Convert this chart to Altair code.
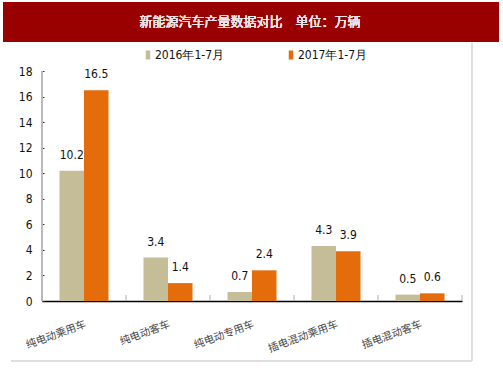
import altair as alt
import pandas as pd

categories = ["纯电动乘用车", "纯电动客车", "纯电动专用车", "插电混动乘用车", "插电混动客车"]
series = ["2016年1-7月", "2017年1-7月"]
v2016 = [10.2, 3.4, 0.7, 4.3, 0.5]
v2017 = [16.5, 1.4, 2.4, 3.9, 0.6]
colors = ["#C4BD97", "#E46C0A"]
y_ticks = [0, 2, 4, 6, 8, 10, 12, 14, 16, 18]
title_text = "新能源汽车产量数据对比　单位：万辆"

rows = []
for c, a, b in zip(categories, v2016, v2017):
    rows.append({"cat": c, "series": series[0], "value": a})
    rows.append({"cat": c, "series": series[1], "value": b})
df = pd.DataFrame(rows)
cats_df = pd.DataFrame({"cat": categories})
last_df = pd.DataFrame({"cat": categories[-1:]})

NUM_FONT = "Liberation Sans Narrow, Arial Narrow, DejaVu Sans Condensed, Liberation Sans, sans-serif"
CJK_FONT = "Noto Sans CJK SC"

xscale = alt.Scale(domain=categories, paddingInner=0, paddingOuter=0)
xaxis = alt.Axis(domainColor="#000000", domainWidth=1.5, ticks=False,
                 labelAngle=340, labelAlign="right", labelBaseline="top",
                 labelPadding=18, labelFont=CJK_FONT, labelFontSize=10.5,
                 labelColor="#444444", grid=False, labelOverlap=False)
yaxis = alt.Axis(values=y_ticks, grid=False, domain=False, offset=-2,
                 tickColor="#333333", tickSize=2, labelPadding=10,
                 labelOverlap=False, labelFont=NUM_FONT, labelFontSize=12,
                 labelColor="#111111")

banner = alt.Chart(cats_df).mark_rect(color="#990000").encode(
    x=alt.value(-39), x2=alt.value(457), y=alt.value(-69), y2=alt.value(-29)
)
banner_text = alt.Chart(cats_df).mark_text(
    text=title_text, font=CJK_FONT, fontSize=13, color="#ece4e4",
    align="center", baseline="middle"
).encode(x=alt.value(208), y=alt.value(-49))

frame_bottom = alt.Chart(cats_df).mark_rule(color="#dddddd").encode(
    x=alt.value(-31), x2=alt.value(430), y=alt.value(290)
)
frame_right = alt.Chart(cats_df).mark_rule(color="#dddddd").encode(
    x=alt.value(430), y=alt.value(-28), y2=alt.value(290)
)
y_domain = alt.Chart(cats_df).mark_rule(color="#b8b8b8").encode(
    x=alt.value(0), y=alt.value(0), y2=alt.value(230)
)

bars = alt.Chart(df).mark_bar().encode(
    x=alt.X("cat:N", scale=xscale, title=None, axis=xaxis),
    xOffset=alt.XOffset("series:N", sort=series,
                        scale=alt.Scale(paddingInner=0, paddingOuter=0.714)),
    y=alt.Y("value:Q", scale=alt.Scale(domain=[0, 18], nice=False), title=None,
            axis=yaxis),
    color=alt.Color("series:N", scale=alt.Scale(domain=series, range=colors),
                    legend=alt.Legend(orient="none", legendX=100, legendY=-22,
                                      direction="horizontal", title=None,
                                      symbolType="M-0.5,-1H0.5V1H-0.5Z", symbolSize=81,
                                      symbolStrokeWidth=0, labelFont=NUM_FONT,
                                      labelFontSize=12, labelColor="#111111",
                                      labelOffset=1, columnPadding=60)),
)

labels = alt.Chart(df).mark_text(
    baseline="bottom", dy=-9, font=NUM_FONT, fontSize=12, color="#111111"
).encode(
    x=alt.X("cat:N", scale=xscale, title=None, axis=xaxis),
    xOffset=alt.XOffset("series:N", sort=series),
    y=alt.Y("value:Q", title=None, axis=yaxis),
    text=alt.Text("value:Q", format=".1f"),
)

ticks = alt.Chart(cats_df).mark_rule(color="#b0b0b0").encode(
    x=alt.X("cat:N", scale=xscale, bandPosition=0, title=None, axis=xaxis),
    y=alt.value(224), y2=alt.value(230),
)
last_tick = alt.Chart(last_df).mark_rule(color="#b0b0b0").encode(
    x=alt.X("cat:N", scale=xscale, bandPosition=1, title=None, axis=xaxis),
    y=alt.value(224), y2=alt.value(230),
)

chart = alt.layer(
    banner, banner_text, frame_bottom, frame_right, y_domain, ticks, last_tick, bars, labels
).properties(
    width=420, height=230,
    autosize=alt.AutoSizeParams(type="none"),
    padding={"left": 42, "top": 71, "right": 41, "bottom": 77},
    background="white",
).configure_view(stroke=None).configure_axis(labelOverlap=False)

chart.save("out.html", embed_options={"renderer": "svg", "actions": False})
